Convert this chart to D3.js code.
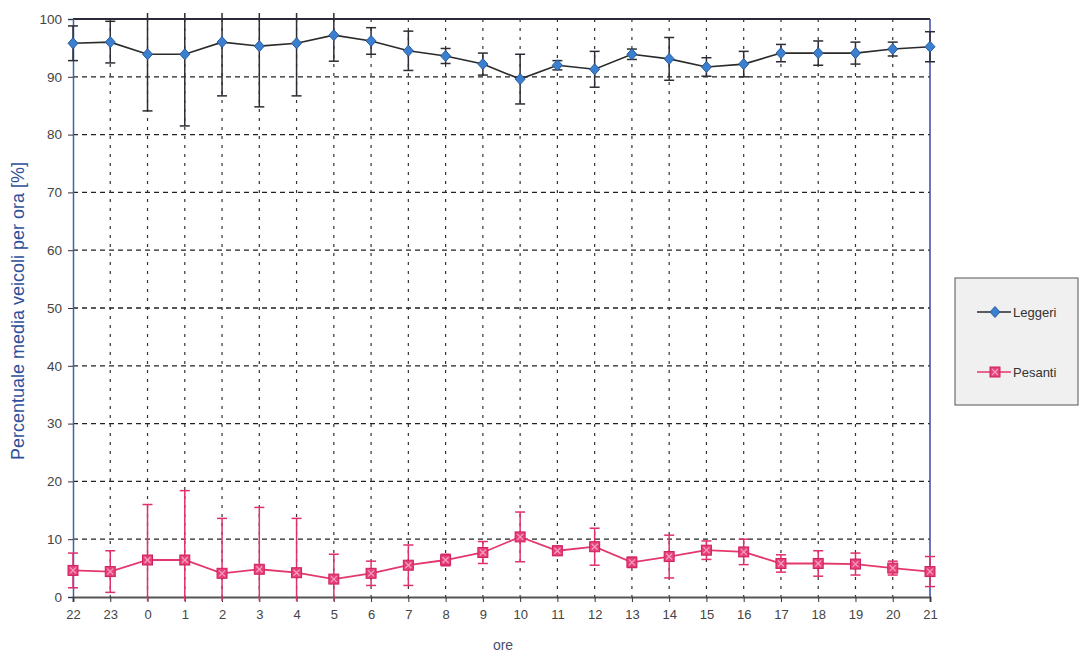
<!DOCTYPE html>
<html>
<head>
<meta charset="utf-8">
<script src="https://cdn.jsdelivr.net/npm/d3@7"></script>
<style>
  html, body { margin: 0; padding: 0; background: #ffffff; }
  svg { display: block; font-family: "Liberation Sans", Arial, sans-serif; }
</style>
</head>
<body>
<svg id="chart" width="1081" height="656"></svg>
<script>
// Hours of the day, starting at 22
const hours = ["22","23","0","1","2","3","4","5","6","7","8","9","10","11","12","13","14","15","16","17","18","19","20","21"];

// Mean share of light vehicles per hour [%] and its spread
const leggeri   = [95.8, 96.0, 93.9, 93.9, 96.0, 95.3, 95.8, 97.2, 96.2, 94.5, 93.6, 92.2, 89.6, 92.0, 91.3, 93.9, 93.1, 91.7, 92.2, 94.1, 94.1, 94.1, 94.8, 95.2];
const leggeriSd = [3.0, 3.6, 9.8, 12.4, 9.3, 10.5, 9.1, 4.5, 2.3, 3.4, 1.3, 1.9, 4.3, 0.8, 3.1, 0.9, 3.7, 1.6, 2.2, 1.5, 2.1, 1.9, 1.2, 2.6];

// Mean share of heavy vehicles per hour [%] and its spread
const pesanti   = [4.6, 4.4, 6.4, 6.4, 4.1, 4.8, 4.2, 3.1, 4.1, 5.5, 6.4, 7.7, 10.4, 8.0, 8.7, 6.0, 7.0, 8.1, 7.8, 5.8, 5.8, 5.7, 5.0, 4.4];
const pesantiSd = [3.0, 3.6, 9.6, 12.0, 9.5, 10.7, 9.4, 4.3, 2.1, 3.5, 1.0, 1.9, 4.3, 0.8, 3.2, 0.9, 3.7, 1.6, 2.2, 1.5, 2.2, 1.9, 1.2, 2.6];

const yTicks = [0, 10, 20, 30, 40, 50, 60, 70, 80, 90, 100];

const svg = d3.select("#chart");
const margin = { left: 73, top: 19, right: 151, bottom: 59 };
const W = 1081, H = 656;
const plotW = W - margin.left - margin.right;
const plotH = H - margin.top - margin.bottom;

const x = d3.scalePoint().domain(hours).range([0, plotW]);
const y = d3.scaleLinear().domain([0, 100]).range([plotH, 0]);

const g = svg.append("g").attr("transform", `translate(${margin.left},${margin.top})`);

// clip region for error bars (slightly larger than the plot)
svg.append("defs").append("clipPath").attr("id", "errclip")
  .append("rect").attr("x", -20).attr("y", -6).attr("width", plotW + 40).attr("height", plotH + 10);

// horizontal dashed grid
g.append("g").selectAll("line").data(yTicks.filter(v => v > 0 && v < 100)).join("line")
  .attr("x1", 0).attr("x2", plotW)
  .attr("y1", d => y(d)).attr("y2", d => y(d))
  .attr("stroke", "#222").attr("stroke-width", 1.3).attr("stroke-dasharray", "5,4");

// vertical dashed grid
g.append("g").selectAll("line").data(hours.slice(1, -1)).join("line")
  .attr("x1", d => x(d)).attr("x2", d => x(d))
  .attr("y1", 0).attr("y2", plotH)
  .attr("stroke", "#333").attr("stroke-width", 1.2).attr("stroke-dasharray", "3,6");

// frame
g.append("line").attr("x1", 0).attr("x2", plotW).attr("y1", 0).attr("y2", 0)
  .attr("stroke", "#2a2a3a").attr("stroke-width", 2);
g.append("line").attr("x1", plotW).attr("x2", plotW).attr("y1", 0).attr("y2", plotH)
  .attr("stroke", "#3a4aa0").attr("stroke-width", 1.5);

// y axis
const yAxis = g.append("g").call(d3.axisLeft(y).tickValues(yTicks).tickSize(5).tickPadding(6));
yAxis.select(".domain").attr("stroke", "#4060b0").attr("stroke-width", 1.5);
yAxis.selectAll(".tick line").attr("stroke", "#333");
yAxis.selectAll("text").attr("fill", "#444").style("font-size", "13.5px");

// x axis
const xAxis = g.append("g").attr("transform", `translate(0,${plotH})`)
  .call(d3.axisBottom(x).tickSize(5).tickPadding(8));
xAxis.select(".domain").attr("stroke", "#555").attr("stroke-width", 2);
xAxis.selectAll(".tick line").attr("stroke", "#333");
xAxis.selectAll("text").attr("fill", "#444").style("font-size", "13px");

// axis titles
svg.append("text").attr("x", 503).attr("y", 650).attr("text-anchor", "middle")
  .attr("fill", "#4a5070").style("font-size", "14px").text("ore");
svg.append("text").attr("transform", "translate(24,311) rotate(-90)").attr("text-anchor", "middle")
  .attr("fill", "#2f4f9a").style("font-size", "18px").text("Percentuale media veicoli per ora [%]");

function errorBars(vals, sds, color) {
  const eg = g.append("g").attr("clip-path", "url(#errclip)");
  const cap = 5;
  hours.forEach((h, i) => {
    const cx = x(h), lo = y(vals[i] - sds[i]), hi = y(vals[i] + sds[i]);
    eg.append("line").attr("x1", cx).attr("x2", cx).attr("y1", lo).attr("y2", hi)
      .attr("stroke", color).attr("stroke-width", 1.5);
    [lo, hi].forEach(v => eg.append("line").attr("x1", cx - cap).attr("x2", cx + cap)
      .attr("y1", v).attr("y2", v).attr("stroke", color).attr("stroke-width", 1.5));
  });
}

errorBars(leggeri, leggeriSd, "#2c2c34");
errorBars(pesanti, pesantiSd, "#e0306a");

const line = d3.line().x((d, i) => x(hours[i])).y(d => y(d));
g.append("path").datum(leggeri).attr("d", line).attr("fill", "none")
  .attr("stroke", "#2a2a2a").attr("stroke-width", 1.6);
g.append("path").datum(pesanti).attr("d", line).attr("fill", "none")
  .attr("stroke", "#e4386c").attr("stroke-width", 1.8);

// markers
function diamond(sel, cx, cy) {
  sel.append("path").attr("d", `M${cx},${cy - 5.5}L${cx + 5},${cy}L${cx},${cy + 5.5}L${cx - 5},${cy}Z`)
    .attr("fill", "#3a7fd0").attr("stroke", "#2a5a9a").attr("stroke-width", 1);
}
function squareX(sel, cx, cy) {
  sel.append("rect").attr("x", cx - 5).attr("y", cy - 5).attr("width", 10).attr("height", 10)
    .attr("fill", "#e6407a").attr("stroke", "#d02060").attr("stroke-width", 1);
  sel.append("path").attr("d", `M${cx - 3},${cy - 3}L${cx + 3},${cy + 3}M${cx + 3},${cy - 3}L${cx - 3},${cy + 3}`)
    .attr("stroke", "#f8a0c0").attr("stroke-width", 1.2);
}
const mg = g.append("g");
leggeri.forEach((v, i) => diamond(mg, x(hours[i]), y(v)));
pesanti.forEach((v, i) => squareX(mg, x(hours[i]), y(v)));

// legend
const lg = svg.append("g").attr("transform", "translate(955,278)");
lg.append("rect").attr("width", 123).attr("height", 127)
  .attr("fill", "#f0f0f0").attr("stroke", "#555").attr("stroke-width", 1);
lg.append("line").attr("x1", 22).attr("x2", 56).attr("y1", 34).attr("y2", 34)
  .attr("stroke", "#2a2a2a").attr("stroke-width", 1.6);
diamond(lg, 40, 34);
lg.append("text").attr("x", 58).attr("y", 39).attr("fill", "#333").style("font-size", "13px").text("Leggeri");
lg.append("line").attr("x1", 22).attr("x2", 56).attr("y1", 94).attr("y2", 94)
  .attr("stroke", "#e4386c").attr("stroke-width", 1.6);
squareX(lg, 40, 94);
lg.append("text").attr("x", 58).attr("y", 99).attr("fill", "#333").style("font-size", "13px").text("Pesanti");
</script>
</body>
</html>
